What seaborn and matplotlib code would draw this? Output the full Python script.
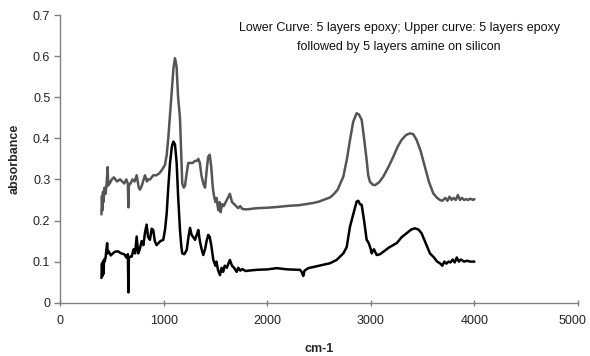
import matplotlib
matplotlib.use("Agg")
import matplotlib.pyplot as plt
import matplotlib.transforms as mtransforms
import seaborn as sns
import pandas as pd

upper_x = [400, 405, 410, 415, 420, 430, 440, 450, 460, 465, 470, 480, 500, 520, 550, 580, 600, 620, 640, 655,
           660, 665, 680, 700, 720, 740, 760, 772, 790, 820, 840, 850, 870, 900, 930, 960, 981, 1013, 1030, 1045,
           1060, 1078, 1095, 1110, 1125, 1140, 1158, 1170, 1180, 1195, 1207, 1220, 1238, 1260, 1280, 1303, 1320, 1335, 1350, 1365,
           1383, 1400, 1415, 1430, 1445, 1460, 1475, 1486, 1500, 1510, 1528, 1540, 1550, 1565, 1580, 1600, 1620, 1640, 1660, 1680,
           1700, 1720, 1740, 1760, 1801, 1900, 2000, 2100, 2220, 2300, 2380, 2450, 2500, 2541, 2606, 2635, 2680, 2735, 2770, 2799,
           2830, 2863, 2885, 2912, 2935, 2960, 2975, 2992, 3020, 3041, 3080, 3121, 3170, 3217, 3260, 3297, 3340, 3378, 3410, 3442,
           3480, 3522, 3560, 3603, 3640, 3667, 3690, 3720, 3740, 3760, 3780, 3800, 3820, 3840, 3860, 3880, 3900, 3920, 3940, 3960,
           3989, 4000]
upper_y = [0.215, 0.26, 0.225, 0.27, 0.245, 0.28, 0.265, 0.29, 0.33, 0.285, 0.295, 0.29, 0.30, 0.305, 0.295, 0.30, 0.295, 0.29, 0.30, 0.29,
           0.232, 0.285, 0.29, 0.30, 0.295, 0.31, 0.28, 0.275, 0.285, 0.31, 0.295, 0.30, 0.30, 0.31, 0.31, 0.315, 0.322, 0.335, 0.36, 0.40,
           0.45, 0.51, 0.57, 0.595, 0.575, 0.50, 0.45, 0.36, 0.29, 0.28, 0.285, 0.31, 0.34, 0.34, 0.34, 0.345, 0.345, 0.35, 0.34, 0.31,
           0.29, 0.28, 0.32, 0.355, 0.36, 0.33, 0.28, 0.26, 0.245, 0.255, 0.225, 0.245, 0.22, 0.24, 0.235, 0.245, 0.255, 0.265, 0.245, 0.24,
           0.235, 0.23, 0.235, 0.228, 0.227, 0.23, 0.231, 0.233, 0.236, 0.237, 0.24, 0.243, 0.246, 0.25, 0.256, 0.262, 0.275, 0.307, 0.35, 0.396,
           0.44, 0.461, 0.458, 0.445, 0.40, 0.347, 0.31, 0.294, 0.287, 0.286, 0.293, 0.307, 0.33, 0.355, 0.38, 0.396, 0.408, 0.412, 0.41, 0.396,
           0.37, 0.331, 0.295, 0.266, 0.255, 0.25, 0.248, 0.255, 0.248, 0.258, 0.25, 0.255, 0.25, 0.262, 0.25, 0.255, 0.25, 0.252, 0.25, 0.253,
           0.25, 0.252]

lower_x = [400, 405, 410, 415, 420, 425, 430, 440, 450, 455, 460, 470, 490, 510, 531, 560, 590, 620, 640, 655,
           660, 665, 680, 692, 710, 725, 740, 755, 770, 788, 805, 820, 836, 850, 868, 885, 900, 915, 932, 950,
           970, 997, 1015, 1030, 1045, 1062, 1080, 1094, 1110, 1126, 1140, 1158, 1170, 1180, 1200, 1223, 1240, 1255, 1270, 1285,
           1303, 1320, 1335, 1350, 1367, 1383, 1400, 1415, 1431, 1445, 1460, 1480, 1500, 1510, 1525, 1544, 1560, 1575, 1590, 1610,
           1625, 1640, 1660, 1680, 1705, 1720, 1740, 1760, 1790, 1817, 1900, 2000, 2091, 2200, 2316, 2335, 2348, 2360, 2396, 2500,
           2606, 2670, 2735, 2767, 2799, 2831, 2863, 2879, 2895, 2912, 2935, 2960, 2980, 3000, 3008, 3030, 3057, 3090, 3121, 3180,
           3250, 3300, 3346, 3390, 3426, 3460, 3490, 3530, 3571, 3610, 3640, 3667, 3690, 3710, 3730, 3750, 3770, 3790, 3810, 3830,
           3850, 3870, 3900, 3930, 3960, 4000]
lower_y = [0.06, 0.095, 0.065, 0.10, 0.07, 0.105, 0.10, 0.11, 0.135, 0.145, 0.12, 0.125, 0.115, 0.12, 0.124, 0.125, 0.12, 0.118, 0.11, 0.118,
           0.025, 0.11, 0.112, 0.112, 0.13, 0.12, 0.161, 0.12, 0.13, 0.15, 0.14, 0.17, 0.19, 0.16, 0.153, 0.18, 0.177, 0.15, 0.14, 0.145,
           0.15, 0.153, 0.18, 0.218, 0.28, 0.34, 0.38, 0.392, 0.385, 0.34, 0.26, 0.177, 0.14, 0.12, 0.118, 0.128, 0.16, 0.182, 0.165, 0.16,
           0.153, 0.165, 0.177, 0.15, 0.13, 0.116, 0.13, 0.15, 0.165, 0.16, 0.14, 0.104, 0.09, 0.10, 0.08, 0.067, 0.085, 0.075, 0.09, 0.085,
           0.095, 0.104, 0.09, 0.085, 0.075, 0.085, 0.078, 0.082, 0.077, 0.078, 0.08, 0.081, 0.084, 0.081, 0.08, 0.074, 0.065, 0.078, 0.084, 0.09,
           0.096, 0.104, 0.12, 0.135, 0.185, 0.215, 0.246, 0.248, 0.24, 0.238, 0.20, 0.153, 0.145, 0.13, 0.12, 0.13, 0.116, 0.118, 0.124, 0.135,
           0.145, 0.16, 0.169, 0.178, 0.181, 0.178, 0.169, 0.145, 0.12, 0.11, 0.10, 0.096, 0.09, 0.10, 0.095, 0.10, 0.098, 0.105, 0.098, 0.11,
           0.10, 0.105, 0.10, 0.102, 0.10, 0.10]

x_ticks = [0, 1000, 2000, 3000, 4000, 5000]
y_ticks = [0, 0.1, 0.2, 0.3, 0.4, 0.5, 0.6, 0.7]
y_tick_labels = ["0", "0.1", "0.2", "0.3", "0.4", "0.5", "0.6", "0.7"]
x_label = "cm-1"
y_label = "absorbance"
note_text = "Lower Curve: 5 layers epoxy; Upper curve: 5 layers epoxy\nfollowed by 5 layers amine on silicon"

sns.set_style("white", {"xtick.bottom": True, "ytick.left": True})
plt.rcParams['font.family'] = ['Liberation Sans', 'DejaVu Sans']
plt.rcParams['xtick.major.size'] = 5
plt.rcParams['ytick.major.size'] = 4

fig = plt.figure(figsize=(5.9, 3.56), dpi=100)
ax = fig.add_axes([60 / 590, 1 - 302.7 / 356, (578 - 60) / 590, (302.7 - 15) / 356])

up = pd.DataFrame({"x": upper_x, "y": upper_y})
lo = pd.DataFrame({"x": lower_x, "y": lower_y})
sns.lineplot(data=up, x="x", y="y", ax=ax, color="#555555", linewidth=1.8, estimator=None, sort=False)
sns.lineplot(data=lo, x="x", y="y", ax=ax, color="#000000", linewidth=1.8, estimator=None, sort=False)

ax.set_xlim(0, 5000)
ax.set_ylim(0, 0.7)
ax.set_xticks(x_ticks)
ax.set_xticklabels([str(v) for v in x_ticks])
ax.set_yticks(y_ticks)
ax.set_yticklabels(y_tick_labels)

for s in ["top", "right"]:
    ax.spines[s].set_visible(False)
for s in ["left", "bottom"]:
    ax.spines[s].set_color("#808080")
    ax.spines[s].set_linewidth(1.0)
ax.tick_params(axis="y", left=True, direction="out", length=4, width=1, color="#808080",
               labelsize=9, labelcolor="#222222", pad=3)
ax.tick_params(axis="x", bottom=True, direction="inout", length=5, width=1, color="#808080",
               labelsize=9, labelcolor="#222222", pad=6)

# nudge the last x tick label left so it fits, as in the reference
last = ax.get_xticklabels()[-1]
last.set_transform(last.get_transform() + mtransforms.ScaledTranslation(-6 / 100, 0, fig.dpi_scale_trans))

ax.set_xlabel(x_label, fontsize=9, fontweight="bold", labelpad=12)
ax.set_ylabel(y_label, fontsize=9, fontweight="bold", labelpad=9)

ax.text(0.655, 0.975, note_text, transform=ax.transAxes,
        ha="center", va="top", fontsize=9, linespacing=1.75, color="#111111")

fig.savefig("out.png", dpi=100)
